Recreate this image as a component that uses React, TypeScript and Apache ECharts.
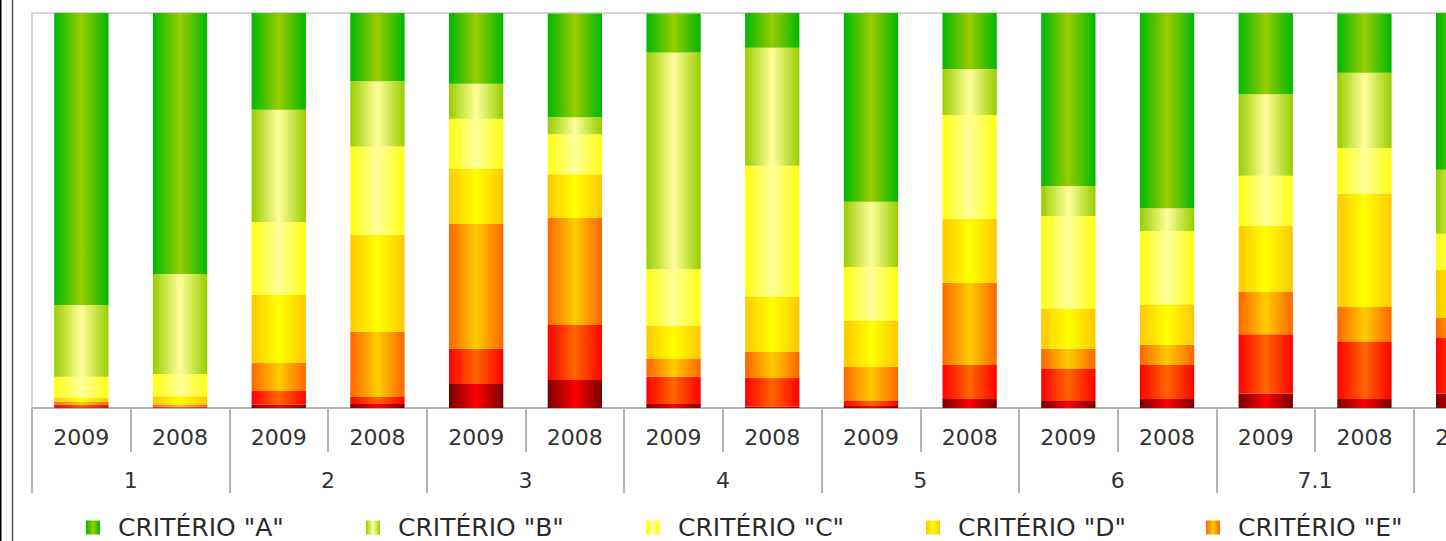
import React, { useEffect, useRef } from "react";
import * as echarts from "echarts";

const years = ["2009", "2008", "2009", "2008", "2009", "2008", "2009", "2008", "2009", "2008", "2009", "2008", "2009", "2008", "2009", "2008"];
const groups = ["1", "2", "3", "4", "5", "6", "7.1", "7.2"];

const critA = [73.9, 66.3, 24.6, 17.5, 18.0, 26.3, 9.9, 8.9, 47.8, 14.2, 43.8, 49.4, 20.6, 15.0, 39.7, 30];
const critB = [18.2, 25.3, 28.4, 16.5, 8.9, 4.3, 54.9, 29.9, 16.5, 11.6, 7.6, 5.8, 20.6, 19.1, 16.2, 18];
const critC = [5.3, 5.6, 18.5, 22.3, 12.7, 10.1, 14.2, 33.2, 13.7, 26.3, 23.5, 18.7, 12.7, 11.5, 9.1, 12];
const critD = [1.0, 2.1, 17.2, 24.6, 13.9, 11.1, 8.5, 13.9, 11.6, 16.2, 10.1, 10.1, 16.6, 28.7, 12.2, 15];
const critE = [0.8, 0.5, 7.1, 16.5, 31.6, 27.1, 4.5, 6.6, 8.6, 20.8, 5.1, 5.1, 10.8, 8.9, 5.1, 8];
const critF = [0.6, 0.3, 3.5, 1.8, 8.9, 13.9, 6.9, 7.3, 1.3, 8.6, 8.1, 8.6, 15.0, 14.4, 14.0, 13];
const critG = [0.2, 0.1, 0.8, 1.0, 6.1, 7.1, 1.0, 0.3, 0.5, 2.3, 1.8, 2.3, 3.7, 2.3, 3.7, 4];

const names = ['CRITÉRIO "A"', 'CRITÉRIO "B"', 'CRITÉRIO "C"', 'CRITÉRIO "D"', 'CRITÉRIO "E"', 'CRITÉRIO "F"', 'CRITÉRIO "G"'];
const values = [critA, critB, critC, critD, critE, critF, critG];
const colors: [string, string][] = [
  ["#00b800", "#99cc00"],
  ["#99cc00", "#ffff99"],
  ["#ffff11", "#ffff99"],
  ["#ffc800", "#ffff00"],
  ["#ff6600", "#ffcc00"],
  ["#ff0000", "#ff6600"],
  ["#7a0000", "#ff0000"],
];

const FONT = "DejaVu Sans";

export default function App() {
  const ref = useRef<HTMLDivElement>(null);
  useEffect(() => {
    if (!ref.current) return;
    const chart = echarts.init(ref.current, undefined, { renderer: "svg" });
    const grad = (c: [string, string]) =>
      new echarts.graphic.LinearGradient(0, 0, 1, 0, [
        { offset: 0, color: c[0] },
        { offset: 0.5, color: c[1] },
        { offset: 1, color: c[0] },
      ]);
    const order = [6, 5, 4, 3, 2, 1, 0];
    const series = order.map((i) => ({
      name: names[i],
      type: "bar",
      stack: "total",
      barWidth: "55%",
      data: values[i],
      itemStyle: { color: grad(colors[i]) },
    }));
    const legends = names.map((n, i) => ({
      data: [n],
      left: 86 + 280 * i,
      top: 515,
      padding: 0,
      icon: "rect",
      itemWidth: 14,
      itemHeight: 14,
      selectedMode: false,
      textStyle: { fontFamily: FONT, fontSize: 25, color: "#2a2a2a", padding: [0, 0, 0, 13] },
    }));
    chart.setOption({
      animation: false,
      grid: { left: 32, top: 13, width: 16 * 98.7, bottom: 133, show: true, borderColor: "#d6d6d6", borderWidth: 2 },
      legend: legends,
      xAxis: [
        {
          type: "category",
          data: years,
          position: "bottom",
          axisLine: { show: true, lineStyle: { color: "#b4b4b4", width: 2 } },
          axisTick: { show: true, length: 44, interval: 0, lineStyle: { color: "#b4b4b4", width: 2 } },
          axisLabel: { fontFamily: FONT, fontSize: 22, color: "#333", margin: 18, interval: 0 },
        },
        {
          type: "category",
          data: groups,
          position: "bottom",
          axisLine: { show: false },
          axisTick: { show: true, length: 85, interval: 0, lineStyle: { color: "#b4b4b4", width: 2 } },
          axisLabel: { fontFamily: FONT, fontSize: 22, color: "#333", margin: 61, interval: 0 },
        },
      ],
      yAxis: {
        type: "value",
        min: 0,
        max: 100,
        axisLabel: { show: false },
        splitLine: { show: false },
        axisLine: { show: false },
        axisTick: { show: false },
      },
      graphic: [
        { type: "line", shape: { x1: 0.75, y1: 0, x2: 0.75, y2: 541 }, style: { stroke: "#000", lineWidth: 1.5 } },
        { type: "line", shape: { x1: 12.5, y1: 0, x2: 12.5, y2: 541 }, style: { stroke: "#555", lineWidth: 1.5 } },
      ],
      series,
    });
    return () => chart.dispose();
  }, []);
  return (
    <div style={{ position: "fixed", left: 0, top: 0, width: 1446, height: 541, overflow: "hidden", background: "#fff" }}>
      <div ref={ref} style={{ width: 1700, height: 541 }} />
    </div>
  );
}
